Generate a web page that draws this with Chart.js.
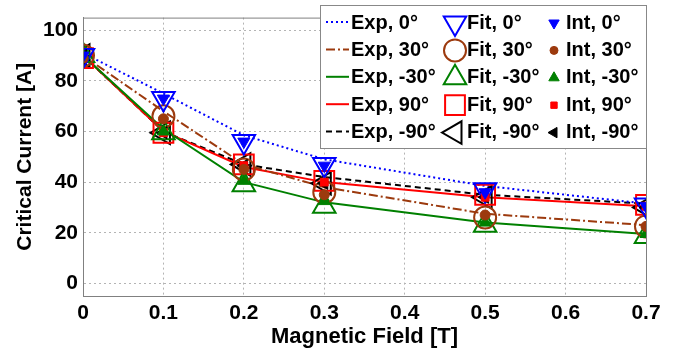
<!DOCTYPE html>
<html>
<head>
<meta charset="utf-8">
<script src="https://cdn.jsdelivr.net/npm/chart.js@4.4.0/dist/chart.umd.min.js"></script>
<style>
  html, body { margin: 0; padding: 0; background: #fff; }
  #wrap { width: 676px; height: 352px; }
</style>
</head>
<body>
<div id="wrap"><canvas id="chart" width="676" height="352"></canvas></div>
<script>
// valeurs
const field = [0, 0.1, 0.2, 0.3, 0.5, 0.7];
const angles = ['0°', '30°', '-30°', '90°', '-90°'];

const exp0 = [91, 75, 58.5, 49, 38.5, 31.5];
const exp30 = [90, 68, 47, 38, 27.5, 23];
const expM30 = [90, 61, 40, 32, 24, 19.5];
const exp90 = [90, 60, 46, 40, 34, 30.5];
const expM90 = [90, 60, 47, 42, 35, 31.5];

const fit0 = [90, 73, 56, 47, 37, 31];
const fit30 = [90, 66, 45, 36, 26, 22.5];
const fitM30 = [90, 59.5, 39, 30.5, 23, 18.5];
const fit90 = [89, 59.5, 47, 40.5, 35, 31];
const fitM90 = [90, 59.5, 47, 39.5, 34, 30];

const int0 = [90, 73, 56, 46.5, 36, 30.5];
const int30 = [89, 65, 45, 35, 27, 22.5];
const intM30 = [90, 60, 40.5, 32.5, 24, 19.5];
const int90 = [89, 59.5, 46.5, 40, 34, 30.5];
const intM90 = [90, 59.5, 46.5, 39.5, 34, 30];

const xTicks = [0, 0.1, 0.2, 0.3, 0.4, 0.5, 0.6, 0.7];
const yTicks = [0, 20, 40, 60, 80, 100];

const expSeries = [exp0, exp30, expM30, exp90, expM90];
const fitSeries = [fit0, fit30, fitM30, fit90, fitM90];
const intSeries = [int0, int30, intM30, int90, intM90];

// styles par angle
const styles = [
  { color: '#0000ff', dash: [2, 3], shape: 'triangle', rot: 180 },
  { color: '#9c3a0e', dash: [9, 3, 2, 3], shape: 'circle', rot: 0 },
  { color: '#008000', dash: [], shape: 'triangle', rot: 0 },
  { color: '#ff0000', dash: [], shape: 'rect', rot: 0 },
  { color: '#000000', dash: [6, 4], shape: 'triangle', rot: -90 }
];
const bigR = { triangle: 13, circle: 11, rect: 14 };
const smallR = { triangle: 7, circle: 5, rect: 5.5 };

const FONT = 'Arial, "Liberation Sans", sans-serif';

function pts(vals) {
  return vals.map((v, i) => ({ x: field[i], y: v }));
}

const datasets = [];
angles.forEach((a, k) => {
  const s = styles[k];
  datasets.push({
    label: 'Exp, ' + a,
    data: pts(expSeries[k]),
    showLine: true,
    borderColor: s.color,
    borderWidth: 2,
    borderDash: s.dash,
    pointRadius: 0,
    order: 2
  });
});
angles.forEach((a, k) => {
  const s = styles[k];
  datasets.push({
    label: 'Fit, ' + a,
    data: pts(fitSeries[k]),
    showLine: false,
    pointStyle: s.shape,
    rotation: s.rot,
    pointRadius: bigR[s.shape],
    pointBorderWidth: 2,
    pointBorderColor: s.color,
    pointBackgroundColor: 'rgba(0,0,0,0)',
    order: 1
  });
});
angles.forEach((a, k) => {
  const s = styles[k];
  datasets.push({
    label: 'Int, ' + a,
    data: pts(intSeries[k]),
    showLine: false,
    pointStyle: s.shape,
    rotation: s.rot,
    pointRadius: smallR[s.shape],
    pointBorderWidth: 1,
    pointBorderColor: s.color,
    pointBackgroundColor: s.color,
    order: 0
  });
});

// cadre autour de la zone de tracé
const boxPlugin = {
  id: 'box',
  afterDraw(chart) {
    const { ctx, chartArea: a } = chart;
    ctx.save();
    ctx.strokeStyle = '#808080';
    ctx.lineWidth = 1;
    ctx.strokeRect(a.left + 0.5, a.top + 0.5, a.right - a.left, a.bottom - a.top);
    ctx.restore();
  }
};

// légende en 3 colonnes (Exp / Fit / Int)
const legendPlugin = {
  id: 'gridLegend',
  afterDraw(chart) {
    const ctx = chart.ctx;
    const left = 320, top = 5, w = 326, h = 143;
    const rowH = 27.4, row0 = 22;
    ctx.save();
    ctx.fillStyle = '#fff';
    ctx.fillRect(left, top, w, h);
    ctx.strokeStyle = '#888';
    ctx.lineWidth = 1;
    ctx.strokeRect(left + 0.5, top + 0.5, w, h);
    ctx.font = 'bold 20px ' + FONT;
    ctx.textBaseline = 'middle';
    ctx.textAlign = 'left';
    angles.forEach((a, k) => {
      const s = styles[k];
      const y = row0 + k * rowH;
      // échantillon de ligne
      ctx.strokeStyle = s.color;
      ctx.lineWidth = 2;
      ctx.setLineDash(s.dash);
      ctx.beginPath();
      ctx.moveTo(326, y);
      ctx.lineTo(349, y);
      ctx.stroke();
      ctx.setLineDash([]);
      ctx.fillStyle = '#000';
      ctx.fillText('Exp, ' + a, 351, y + 1);
      // marqueur creux
      ctx.strokeStyle = s.color;
      ctx.fillStyle = 'rgba(0,0,0,0)';
      ctx.lineWidth = 2;
      Chart.helpers.drawPoint(ctx, { pointStyle: s.shape, rotation: s.rot, radius: bigR[s.shape], borderWidth: 2 }, 455, y + 1);
      ctx.fillStyle = '#000';
      ctx.fillText('Fit, ' + a, 467, y + 1);
      // marqueur plein
      ctx.strokeStyle = s.color;
      ctx.fillStyle = s.color;
      ctx.lineWidth = 1;
      Chart.helpers.drawPoint(ctx, { pointStyle: s.shape, rotation: s.rot, radius: smallR[s.shape] - 1, borderWidth: 1 }, 554, y + 1);
      ctx.fillStyle = '#000';
      ctx.fillText('Int, ' + a, 566, y + 1);
    });
    ctx.restore();
  }
};

const ctx = document.getElementById('chart').getContext('2d');
new Chart(ctx, {
  type: 'scatter',
  data: { datasets },
  options: {
    responsive: false,
    animation: false,
    events: [],
    layout: { padding: { left: 0, top: 7, right: 30, bottom: 0 } },
    plugins: {
      legend: { display: false },
      tooltip: { enabled: false }
    },
    scales: {
      x: {
        type: 'linear',
        min: 0,
        max: 0.7,
        afterBuildTicks: s => { s.ticks = xTicks.map(v => ({ value: v })); },
        afterFit: s => { s.height = 56; },
        ticks: {
          color: '#000',
          font: { family: FONT, size: 21, weight: 'bold' },
          padding: 5,
          maxRotation: 0,
          callback: v => (v === 0 ? '0' : v.toFixed(1))
        },
        grid: { color: '#b4b4b4', lineWidth: 1, drawTicks: false },
        border: { display: true, color: '#808080', dash: [2, 3] },
        title: {
          display: true,
          text: 'Magnetic Field [T]',
          color: '#000',
          font: { family: FONT, size: 22, weight: 'bold' },
          padding: { top: 0, bottom: 2 }
        }
      },
      y: {
        type: 'linear',
        min: -5,
        max: 105,
        afterBuildTicks: s => { s.ticks = yTicks.map(v => ({ value: v })); },
        afterFit: s => { s.width = 83; },
        ticks: {
          color: '#000',
          font: { family: FONT, size: 21, weight: 'bold' },
          padding: 5
        },
        grid: { color: '#b4b4b4', lineWidth: 1, drawTicks: false },
        border: { display: true, color: '#808080', dash: [2, 3] },
        title: {
          display: true,
          text: 'Critical Current [A]',
          color: '#000',
          font: { family: FONT, size: 21, weight: 'bold' },
          padding: { top: 13, bottom: 0 }
        }
      }
    }
  },
  plugins: [boxPlugin, legendPlugin]
});
</script>
</body>
</html>
